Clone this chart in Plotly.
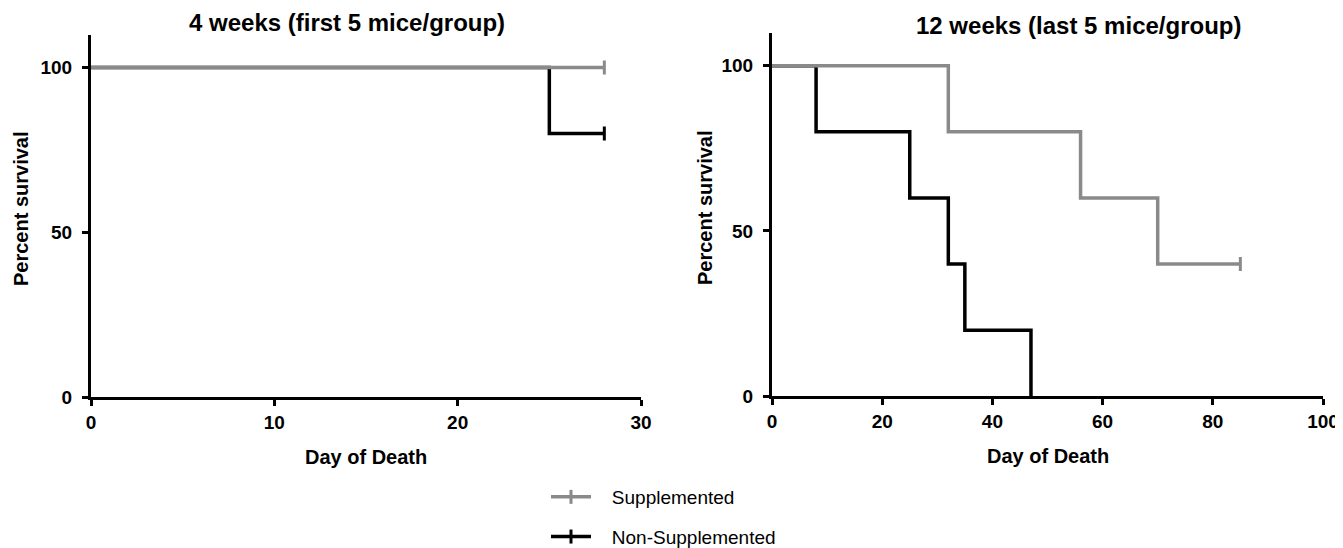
import plotly.graph_objects as go

# ---- data ----
# 4 weeks panel
w4_sup_days = [0, 28]
w4_sup_surv = [100, 100]
w4_non_days = [0, 25, 28]
w4_non_surv = [100, 80, 80]
w4_sup_cens_days = [28]
w4_sup_cens_surv = [100]
w4_non_cens_days = [28]
w4_non_cens_surv = [80]

# 12 weeks panel
w12_sup_days = [0, 32, 56, 70, 85]
w12_sup_surv = [100, 80, 60, 40, 40]
w12_non_days = [0, 8, 25, 32, 35, 47]
w12_non_surv = [100, 80, 60, 40, 20, 0]
w12_sup_cens_days = [85]
w12_sup_cens_surv = [40]

titles = ["4 weeks (first 5 mice/group)", "12 weeks (last 5 mice/group)"]
group_names = ["Supplemented", "Non-Supplemented"]
x_title = "Day of Death"
y_title = "Percent survival"
y_ticks = [0, 50, 100]

GREY = "#8a8a8a"
BLACK = "#000000"
FONT = "Liberation Sans, Arial, sans-serif"
LW = 3.5

fig = go.Figure()

def step(x, y, color, xa, ya):
    fig.add_trace(go.Scatter(x=x, y=y, mode="lines", line=dict(color=color, width=LW, shape="hv"),
                             xaxis=xa, yaxis=ya, showlegend=False, hoverinfo="skip"))

def cens(x, y, color, xa, ya, name=None, rank=None):
    fig.add_trace(go.Scatter(x=x, y=y, mode="lines+markers" if name else "markers",
                             marker=dict(symbol="line-ns", size=10, line=dict(color=color, width=3)),
                             line=dict(color=color, width=LW),
                             xaxis=xa, yaxis=ya,
                             name=("\u00a0\u00a0\u00a0" + name) if name else None,
                             showlegend=bool(name),
                             legendgroup=name, legendrank=rank, hoverinfo="skip"))

# black first, grey on top
step(w4_non_days, w4_non_surv, BLACK, "x", "y")
cens(w4_non_cens_days, w4_non_cens_surv, BLACK, "x", "y", group_names[1], 2)
step(w4_sup_days, w4_sup_surv, GREY, "x", "y")
cens(w4_sup_cens_days, w4_sup_cens_surv, GREY, "x", "y", group_names[0], 1)

step(w12_non_days, w12_non_surv, BLACK, "x2", "y2")
step(w12_sup_days, w12_sup_surv, GREY, "x2", "y2")
cens(w12_sup_cens_days, w12_sup_cens_surv, GREY, "x2", "y2")

# the page body adds an 8px offset; layout positions below are in window pixels
OFF = 8
W, H = 1343, 548

def px(x):
    return (x - OFF) / W

def py(y):
    return 1 - (y - OFF) / H

axis_common = dict(showline=True, linewidth=3, linecolor="black", ticks="outside", ticklen=6,
                   tickwidth=3, tickcolor="black", showgrid=False, zeroline=False, automargin=False,
                   ticklabeloverflow="allow",
                   tickfont=dict(family=FONT, size=19, color="black", weight="bold"))
title_font = dict(family=FONT, size=20, color="black", weight="bold")
head_font = dict(family=FONT, size=24, color="black", weight="bold")

L1, R1 = 91, 641
L2, R2 = 772, 1323

fig.update_layout(
    width=W, height=H, margin=dict(l=0, r=0, t=0, b=0),
    plot_bgcolor="white", paper_bgcolor="white",
    xaxis=dict(domain=[px(L1), px(R1)], range=[0, 30], dtick=10, anchor="y", **axis_common),
    yaxis=dict(domain=[py(403), py(35)], range=[0, 110], tickvals=y_ticks, anchor="x",
               ticklabelstandoff=6, **axis_common),
    xaxis2=dict(domain=[px(L2), px(R2)], range=[0, 100], dtick=20, anchor="y2", **axis_common),
    yaxis2=dict(domain=[py(402), py(33)], range=[0, 110], tickvals=y_ticks, anchor="x2",
                ticklabelstandoff=6, **axis_common),
    legend=dict(x=px(546), y=py(485), xanchor="left", yanchor="top", itemwidth=40,
                font=dict(family=FONT, size=19, color="black"), tracegroupgap=12,
                bgcolor="rgba(0,0,0,0)"),
    annotations=[
        dict(text=titles[0], x=px(347), y=py(23), xref="paper", yref="paper", showarrow=False,
             xanchor="center", yanchor="middle", font=head_font),
        dict(text=titles[1], x=px(1078), y=py(26), xref="paper", yref="paper", showarrow=False,
             xanchor="center", yanchor="middle", font=head_font),
        dict(text=x_title, x=px((L1 + R1) / 2), y=py(464), xref="paper", yref="paper", showarrow=False,
             xanchor="center", yanchor="middle", font=title_font),
        dict(text=x_title, x=px((L2 + R2) / 2), y=py(463), xref="paper", yref="paper", showarrow=False,
             xanchor="center", yanchor="middle", font=title_font),
        dict(text=y_title, x=px(21), y=py(212), xref="paper", yref="paper", showarrow=False,
             textangle=-90, xanchor="center", yanchor="middle", font=title_font),
        dict(text=y_title, x=px(705), y=py(211), xref="paper", yref="paper", showarrow=False,
             textangle=-90, xanchor="center", yanchor="middle", font=title_font),
    ],
)

fig.write_html("out.html")
